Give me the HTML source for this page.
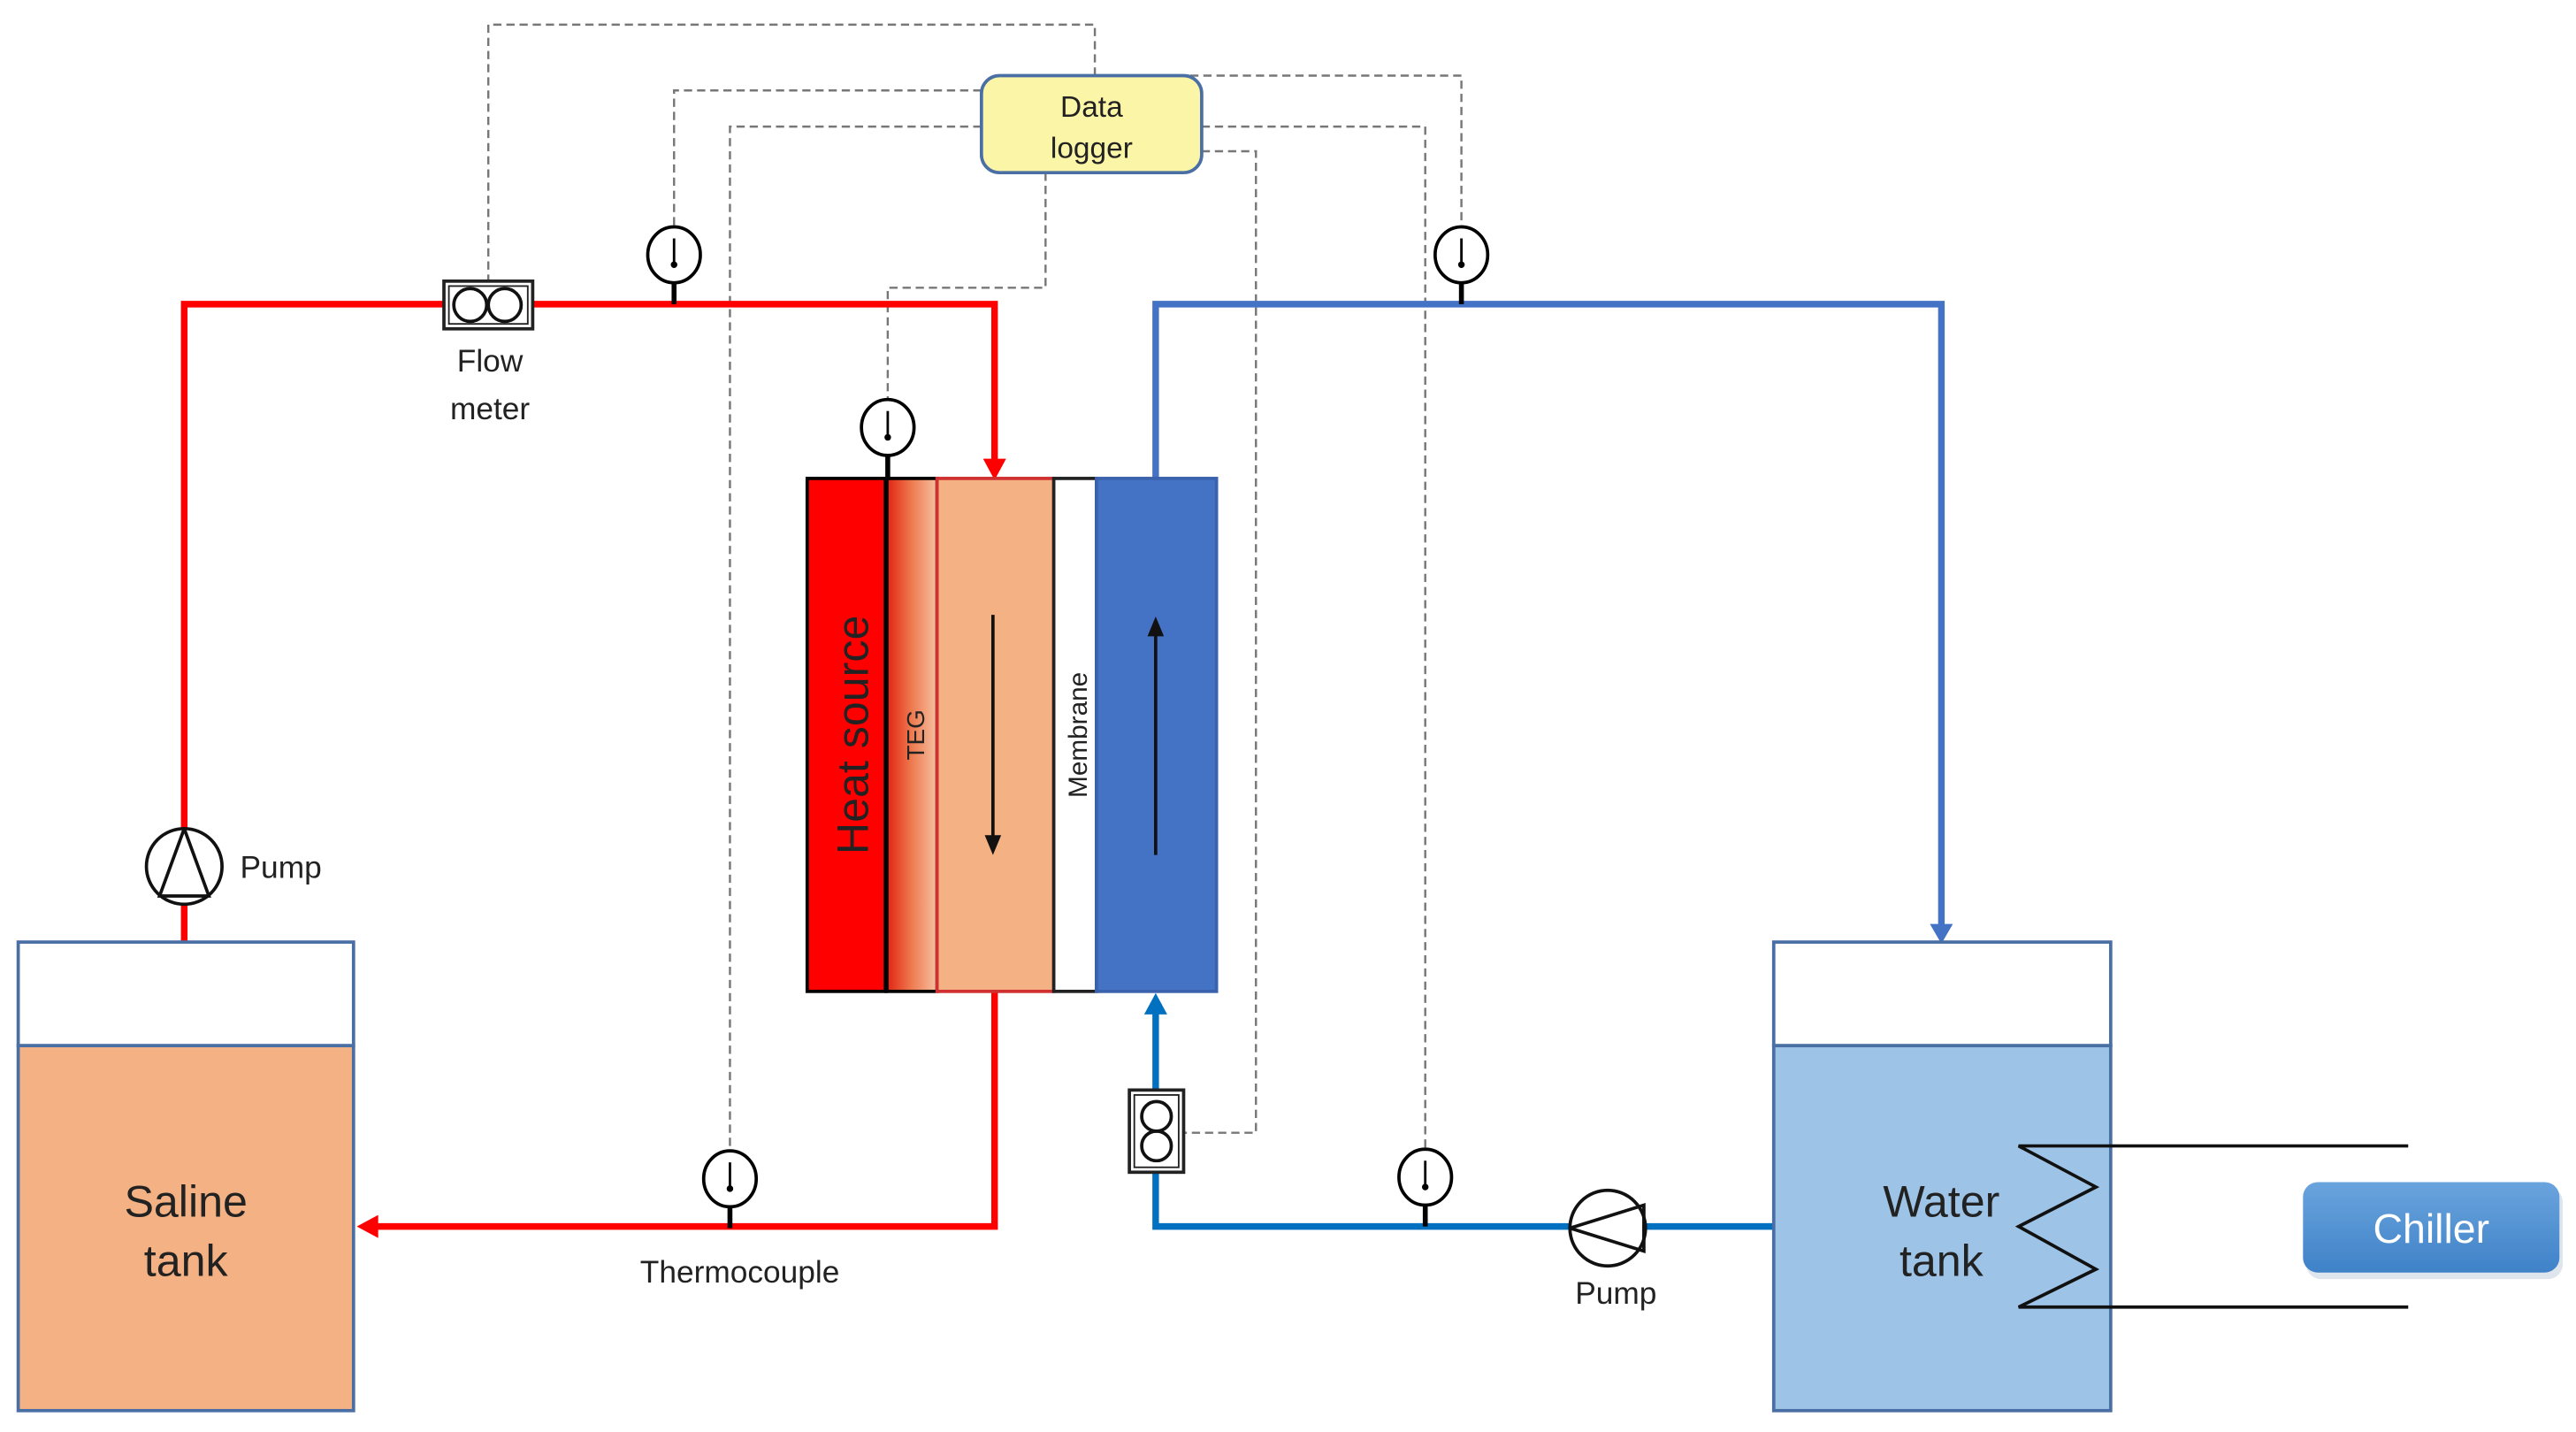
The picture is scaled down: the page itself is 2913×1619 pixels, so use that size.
<!DOCTYPE html>
<html><head><meta charset="utf-8"><style>
html,body{margin:0;padding:0;background:#fff}
svg{display:block}
text{font-family:"Liberation Sans",sans-serif;fill:#222}
</style></head><body>
<svg width="2913" height="1619" viewBox="0 0 1567 871" xmlns="http://www.w3.org/2000/svg">
<defs>
<linearGradient id="teg" x1="0" x2="1" y1="0" y2="0"><stop offset="0" stop-color="#e02010"/><stop offset="0.5" stop-color="#ee7a50"/><stop offset="1" stop-color="#f6c0a0"/></linearGradient>
<linearGradient id="ch" x1="0" x2="0" y1="0" y2="1"><stop offset="0" stop-color="#6aa4dd"/><stop offset="1" stop-color="#3f82c8"/></linearGradient>
<g id="tc"><ellipse cx="0" cy="0" rx="16" ry="17" fill="#fff" stroke="#000" stroke-width="2"/><line x1="0" y1="-10" x2="0" y2="7" stroke="#000" stroke-width="1.5"/><circle cx="0" cy="6" r="2" fill="#000"/><line x1="0" y1="17" x2="0" y2="30" stroke="#000" stroke-width="3"/></g>
</defs>
<!-- dashed signal lines -->
<g fill="none" stroke="#777" stroke-width="1.3" stroke-dasharray="5 3">
<polyline points="297,172 297,15 666,15 666,46"/>
<polyline points="597,55 410,55 410,138"/>
<polyline points="597,77 444,77 444,700"/>
<polyline points="636,105 636,175 540,175 540,243"/>
<polyline points="700,46 889,46 889,138"/>
<polyline points="731,77 867,77 867,699"/>
<polyline points="731,92 764,92 764,689 720,689"/>
</g>
<!-- data logger -->
<rect x="597" y="46" width="134" height="59" rx="11" fill="#fbf5a8" stroke="#4a6fa5" stroke-width="2"/>
<text x="664" y="71" font-size="18" text-anchor="middle">Data</text>
<text x="664" y="96" font-size="18" text-anchor="middle">logger</text>
<!-- red pipes -->
<g fill="none" stroke="#ff0000" stroke-width="4">
<polyline points="112,573 112,185 605,185 605,280"/>
<polyline points="605,603 605,746 228,746"/>
</g>
<polygon points="598,279 612,279 605,292" fill="#ff0000"/>
<polygon points="217,746 230,739 230,753" fill="#ff0000"/>
<!-- blue pipes -->
<g fill="none" stroke="#4472c4" stroke-width="4">
<polyline points="703,291 703,185 1181,185 1181,563"/>
</g>
<polygon points="1174,562 1188,562 1181,574" fill="#4472c4"/>
<polyline points="1079,746 703,746 703,616" fill="none" stroke="#0070c0" stroke-width="4"/>
<polygon points="696,617 710,617 703,604" fill="#0070c0"/>
<!-- module -->
<rect x="491" y="291" width="48" height="312" fill="#ff0000" stroke="#000" stroke-width="2"/>
<rect x="539" y="291" width="31" height="312" fill="url(#teg)" stroke="#000" stroke-width="2"/>
<rect x="570" y="291" width="71" height="312" fill="#f4b183" stroke="#d03030" stroke-width="2"/>
<rect x="641" y="291" width="26" height="312" fill="#fff" stroke="#222" stroke-width="2"/>
<rect x="667" y="291" width="73" height="312" fill="#4472c4" stroke="#3a62ad" stroke-width="2"/>
<line x1="539" y1="291" x2="539" y2="603" stroke="#000" stroke-width="3"/>
<text transform="translate(528,447) rotate(-90)" font-size="27" text-anchor="middle" fill="#111">Heat source</text>
<text transform="translate(562,447) rotate(-90)" font-size="15" text-anchor="middle" fill="#222">TEG</text>
<text transform="translate(661,447) rotate(-90)" font-size="16" text-anchor="middle" fill="#222">Membrane</text>
<line x1="604" y1="374" x2="604" y2="510" stroke="#111" stroke-width="2"/>
<polygon points="599,508 609,508 604,520" fill="#111"/>
<line x1="703" y1="386" x2="703" y2="520" stroke="#111" stroke-width="2"/>
<polygon points="698,387 708,387 703,375" fill="#111"/>
<!-- thermocouples -->
<use href="#tc" x="410" y="155"/>
<use href="#tc" x="540" y="260"/>
<use href="#tc" x="889" y="155"/>
<use href="#tc" x="444" y="717"/>
<use href="#tc" x="867" y="716"/>
<!-- flow meter 1 -->
<rect x="270" y="171" width="54" height="29" fill="#fff" stroke="#222" stroke-width="2"/>
<rect x="273" y="174" width="48" height="23" fill="none" stroke="#222" stroke-width="1"/>
<ellipse cx="286" cy="185.5" rx="10" ry="10" fill="none" stroke="#111" stroke-width="2"/>
<ellipse cx="307" cy="185.5" rx="10" ry="10" fill="none" stroke="#111" stroke-width="2"/>
<text x="298" y="226" font-size="19" text-anchor="middle">Flow</text>
<text x="298" y="255" font-size="19" text-anchor="middle">meter</text>
<!-- flow meter 2 -->
<rect x="687" y="663" width="33" height="50" fill="#fff" stroke="#222" stroke-width="2"/>
<rect x="690" y="666" width="27" height="44" fill="none" stroke="#222" stroke-width="1"/>
<circle cx="703.5" cy="679" r="9" fill="none" stroke="#111" stroke-width="2"/>
<circle cx="703.5" cy="697" r="9" fill="none" stroke="#111" stroke-width="2"/>
<!-- pump 1 -->
<ellipse cx="112" cy="527" rx="23" ry="23" fill="#fff" stroke="#111" stroke-width="2"/>
<polyline points="112,504 97,545 127,545 112,504" fill="none" stroke="#111" stroke-width="2"/>
<text x="146" y="534" font-size="19">Pump</text>
<!-- pump 2 -->
<ellipse cx="978" cy="747" rx="23" ry="23" fill="#fff" stroke="#111" stroke-width="2"/>
<polyline points="955,747 1000,733 1000,761 955,747" fill="none" stroke="#111" stroke-width="2"/>
<text x="983" y="793" font-size="19" text-anchor="middle">Pump</text>
<text x="450" y="780" font-size="19" text-anchor="middle">Thermocouple</text>
<!-- saline tank -->
<rect x="11" y="573" width="204" height="63" fill="#fff" stroke="#4a6fa5" stroke-width="2"/>
<rect x="11" y="636" width="204" height="222" fill="#f4b183" stroke="#4a6fa5" stroke-width="2"/>
<text x="113" y="740" font-size="27" text-anchor="middle">Saline</text>
<text x="113" y="776" font-size="27" text-anchor="middle">tank</text>
<!-- water tank -->
<rect x="1079" y="573" width="205" height="63" fill="#fff" stroke="#4a6fa5" stroke-width="2"/>
<rect x="1079" y="636" width="205" height="222" fill="#9dc3e6" stroke="#4a6fa5" stroke-width="2"/>
<text x="1181" y="740" font-size="27" text-anchor="middle">Water</text>
<text x="1181" y="776" font-size="27" text-anchor="middle">tank</text>
<polyline points="1465,697 1228,697 1275,722 1228,746 1275,772 1228,795 1465,795" fill="none" stroke="#111" stroke-width="2"/>
<!-- chiller -->
<rect x="1403" y="722" width="156" height="56" rx="9" fill="#c8d4e0" opacity="0.6"/>
<rect x="1401" y="719" width="156" height="55" rx="9" fill="url(#ch)"/>
<text x="1479" y="756" font-size="25" text-anchor="middle" fill="#fff" style="fill:#fff">Chiller</text>
</svg>
</body></html>
